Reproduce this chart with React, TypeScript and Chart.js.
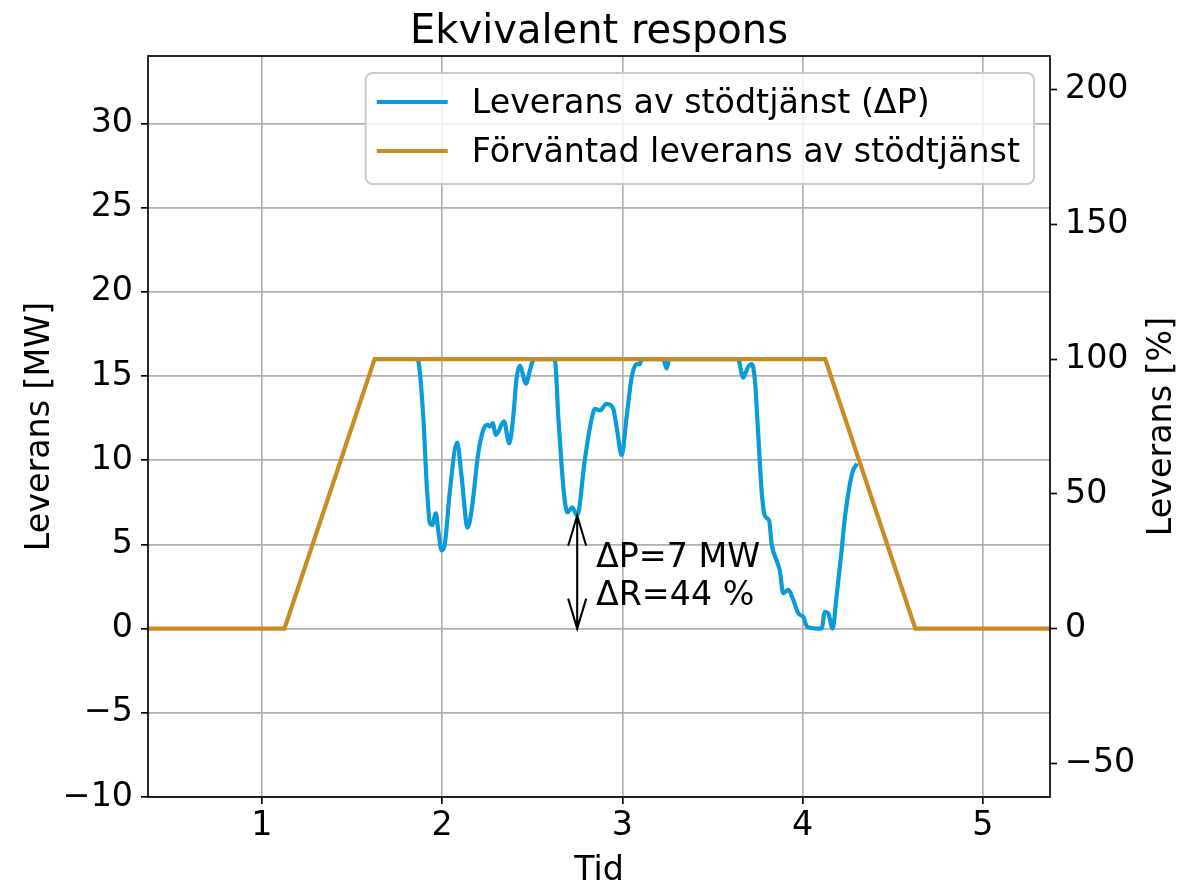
import React, { useEffect, useRef } from "react";
import { Chart, registerables } from "chart.js";

Chart.register(...registerables);

// ---------- data ----------
const expectedTime = [0.3, 1.125, 1.625, 4.125, 4.625, 5.5];
const expectedMW = [0, 0, 16, 16, 0, 0];

const deliveredTime = [
  1.856, 1.867, 1.895, 1.914, 1.932, 1.945, 1.965, 1.978, 1.997,
  2.015, 2.043, 2.083, 2.108, 2.141, 2.163, 2.2, 2.228, 2.25, 2.265,
  2.28, 2.298, 2.343, 2.372, 2.394, 2.413, 2.431, 2.465, 2.487, 2.502,
  2.515, 2.615, 2.626, 2.644, 2.663, 2.68, 2.695, 2.722, 2.749, 2.791,
  2.82, 2.848, 2.875, 2.912, 2.949, 2.968, 2.996, 3.023, 3.051, 3.079,
  3.097, 3.106, 3.226, 3.245, 3.259, 3.641, 3.67, 3.695, 3.717, 3.735,
  3.753, 3.772, 3.79, 3.814, 3.828, 3.855, 3.873, 3.892, 3.92, 3.948,
  3.976, 4.003, 4.025, 4.105, 4.123, 4.142, 4.166, 4.188, 4.216, 4.234,
  4.262, 4.28, 4.303,
];
const deliveredMW = [
  16, 15.9, 12.6, 8.6, 6.25, 6.15, 6.85, 5.85, 4.65,
  5.05, 8.2, 11.05, 9.0, 6.0, 7.0, 10.4, 11.8, 12.1, 12.0,
  12.2, 11.5, 12.3, 11.0, 12.55, 14.9, 15.6, 14.55, 15.35, 15.9,
  16, 16, 15.9, 12.6, 9.6, 7.6, 6.9, 7.2, 6.7, 10.0,
  11.95, 13.05, 12.95, 13.35, 13.05, 11.95, 10.3, 12.55, 14.9, 15.7,
  15.7, 16, 16, 15.45, 16, 16, 14.9, 15.5, 15.7, 14.75,
  11.6, 8.2, 6.7, 6.4, 5.0, 4.05, 3.45, 2.1, 2.3, 1.7,
  0.9, 0.7, 0.1, 0, 1.0, 0.9, 0, 1.9, 4.65, 6.6,
  8.6, 9.4, 9.8,
];

const xTicks = [1, 2, 3, 4, 5];
const yTicksMW = [-10, -5, 0, 5, 10, 15, 20, 25, 30];
const yTicksPct = [-50, 0, 50, 100, 150, 200];

const X_MIN = 0.368;
const X_MAX = 5.372;
const MW_MIN = -10;
const MW_MAX = 34;
const RATED_MW = 16;

const TITLE = "Ekvivalent respons";
const X_LABEL = "Tid";
const Y_LABEL = "Leverans [MW]";
const Y2_LABEL = "Leverans [%]";
const SERIES_DELIVERED = "Leverans av stödtjänst (ΔP)";
const SERIES_EXPECTED = "Förväntad leverans av stödtjänst";
const ANNOT_LINES = ["ΔP=7 MW", "ΔR=44 %"];
const ANNOT_X = 2.749;
const ANNOT_TOP = 6.7;
const ANNOT_TEXT_X = 2.853;
const ANNOT_TEXT_Y = 3.67;

const BLUE = "#0a9bd9";
const ORANGE = "#cc8a22";
const FONT = '"DejaVu Sans"';
const FS = 33.3;

// ---------- overlay plugin ----------
const overlay = {
  id: "overlay",
  afterDatasetsDraw(chart: any) {
    const { ctx, chartArea: a, scales } = chart;
    const xs = scales.x;
    const ys = scales.y;
    ctx.save();

    // frame (spines)
    ctx.strokeStyle = "#000";
    ctx.lineWidth = 1.67;
    ctx.strokeRect(a.left, a.top, a.right - a.left, a.bottom - a.top);

    // annotation arrow <->
    const ax = xs.getPixelForValue(ANNOT_X);
    const yTop = ys.getPixelForValue(ANNOT_TOP);
    const yBot = ys.getPixelForValue(0);
    ctx.lineWidth = 2.1;
    ctx.lineCap = "butt";
    ctx.beginPath();
    ctx.moveTo(ax, yTop);
    ctx.lineTo(ax, yBot);
    ctx.moveTo(ax - 9, yTop + 30);
    ctx.lineTo(ax, yTop);
    ctx.lineTo(ax + 9, yTop + 30);
    ctx.moveTo(ax - 9, yBot - 30);
    ctx.lineTo(ax, yBot);
    ctx.lineTo(ax + 9, yBot - 30);
    ctx.stroke();

    ctx.fillStyle = "#000";
    ctx.font = `${FS}px ${FONT}`;
    ctx.textAlign = "left";
    ctx.textBaseline = "alphabetic";
    const tx = xs.getPixelForValue(ANNOT_TEXT_X);
    const ty = ys.getPixelForValue(ANNOT_TEXT_Y);
    ANNOT_LINES.forEach((t, i) => ctx.fillText(t, tx, ty + i * 38.5));

    // title
    ctx.font = `40px ${FONT}`;
    ctx.textAlign = "center";
    ctx.fillText(TITLE, (a.left + a.right) / 2, 43);

    // axis labels
    ctx.font = `${FS}px ${FONT}`;
    ctx.fillText(X_LABEL, (a.left + a.right) / 2, 880);
    const cy = (a.top + a.bottom) / 2;
    ctx.save();
    ctx.translate(49, cy);
    ctx.rotate(-Math.PI / 2);
    ctx.fillText(Y_LABEL, 0, 0);
    ctx.restore();
    ctx.save();
    ctx.translate(1171, cy);
    ctx.rotate(-Math.PI / 2);
    ctx.fillText(Y2_LABEL, 0, 0);
    ctx.restore();

    // legend
    const entries = [
      { label: SERIES_DELIVERED, color: BLUE },
      { label: SERIES_EXPECTED, color: ORANGE },
    ];
    ctx.font = `${FS}px ${FONT}`;
    const tw = Math.max(...entries.map((e) => ctx.measureText(e.label).width));
    const right = a.right - 16;
    const width = 106 + tw + 14;
    const left = right - width;
    const top = a.top + 17;
    const h = 111;
    const r = 7;
    ctx.beginPath();
    ctx.moveTo(left + r, top);
    ctx.arcTo(right, top, right, top + h, r);
    ctx.arcTo(right, top + h, left, top + h, r);
    ctx.arcTo(left, top + h, left, top, r);
    ctx.arcTo(left, top, right, top, r);
    ctx.closePath();
    ctx.fillStyle = "rgba(255,255,255,0.8)";
    ctx.fill();
    ctx.strokeStyle = "#cccccc";
    ctx.lineWidth = 2;
    ctx.stroke();
    entries.forEach((e, i) => {
      const rowY = top + 29 + i * 49;
      ctx.strokeStyle = e.color;
      ctx.lineWidth = 4.2;
      ctx.beginPath();
      ctx.moveTo(left + 11, rowY);
      ctx.lineTo(left + 82, rowY);
      ctx.stroke();
      ctx.fillStyle = "#000";
      ctx.textAlign = "left";
      ctx.textBaseline = "alphabetic";
      ctx.fillText(e.label, left + 106, rowY + 11);
    });

    ctx.restore();
  },
};

export default function App() {
  const ref = useRef<HTMLCanvasElement | null>(null);

  useEffect(() => {
    if (!ref.current) return;
    const tickFont = { family: "DejaVu Sans", size: FS };
    const chart = new Chart(ref.current, {
      type: "line",
      data: {
        datasets: [
          {
            label: SERIES_DELIVERED,
            data: deliveredTime.map((t, i) => ({ x: t, y: deliveredMW[i] })),
            borderColor: BLUE,
            backgroundColor: BLUE,
            borderWidth: 4.2,
            pointRadius: 0,
            cubicInterpolationMode: "monotone",
            order: 2,
            clip: 0,
          },
          {
            label: SERIES_EXPECTED,
            data: expectedTime.map((t, i) => ({ x: t, y: expectedMW[i] })),
            borderColor: ORANGE,
            backgroundColor: ORANGE,
            borderWidth: 4.2,
            pointRadius: 0,
            tension: 0,
            order: 1,
            clip: 0,
          },
        ],
      },
      options: {
        animation: false,
        responsive: false,
        devicePixelRatio: 1,
        layout: { padding: { top: 56, left: 0, right: 0, bottom: 0 } },
        plugins: {
          legend: { display: false },
          title: { display: false },
          tooltip: { enabled: false },
        },
        scales: {
          x: {
            type: "linear",
            min: X_MIN,
            max: X_MAX,
            afterBuildTicks: (s: any) => {
              s.ticks = xTicks.map((v) => ({ value: v }));
            },
            afterFit: (s: any) => {
              s.height = 87;
            },
            border: { display: false },
            grid: {
              color: "#b0b0b0",
              lineWidth: 1.67,
              tickColor: "#000",
              tickWidth: 1.67,
              tickLength: 7,
            },
            ticks: { color: "#000", font: tickFont, padding: 2, maxRotation: 0 },
          },
          y: {
            type: "linear",
            position: "left",
            min: MW_MIN,
            max: MW_MAX,
            afterBuildTicks: (s: any) => {
              s.ticks = yTicksMW.map((v) => ({ value: v }));
            },
            afterFit: (s: any) => {
              s.width = 148;
            },
            border: { display: false },
            grid: {
              color: "#b0b0b0",
              lineWidth: 1.67,
              tickColor: "#000",
              tickWidth: 1.67,
              tickLength: 7,
            },
            ticks: {
              color: "#000",
              font: tickFont,
              padding: 8,
              callback: (v: any) => (v < 0 ? "\u2212" + Math.abs(v) : String(v)),
            },
          },
          y2: {
            type: "linear",
            position: "right",
            min: (MW_MIN / RATED_MW) * 100,
            max: (MW_MAX / RATED_MW) * 100,
            afterBuildTicks: (s: any) => {
              s.ticks = yTicksPct.map((v) => ({ value: v }));
            },
            afterFit: (s: any) => {
              s.width = 129;
            },
            border: { display: false },
            grid: {
              drawOnChartArea: false,
              tickColor: "#000",
              tickWidth: 1.67,
              tickLength: 7,
            },
            ticks: {
              color: "#000",
              font: tickFont,
              padding: 8,
              callback: (v: any) => (v < 0 ? "\u2212" + Math.abs(v) : String(v)),
            },
          },
        },
      } as any,
      plugins: [overlay],
    });
    return () => chart.destroy();
  }, []);

  return (
    <div
      style={{
        position: "fixed",
        left: 0,
        top: 0,
        width: 1179,
        height: 884,
        background: "#fff",
      }}
    >
      <canvas ref={ref} width={1179} height={884} style={{ display: "block" }} />
    </div>
  );
}
